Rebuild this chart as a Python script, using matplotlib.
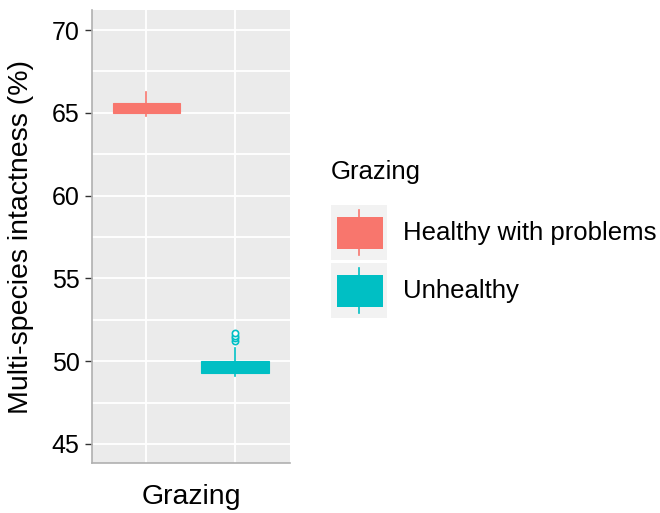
import matplotlib.pyplot as plt
from matplotlib.patches import Rectangle

plt.rcParams['font.family'] = ['Liberation Sans', 'DejaVu Sans']

# data------------------------------------------------------------------------#
groups = ['Healthy with problems', 'Unhealthy']
colors = ['#F8766D', '#00BFC4']
whislo = [64.83, 49.13]
q1 = [64.97, 49.27]
med = [65.30, 49.60]
q3 = [65.57, 50.00]
whishi = [66.24, 50.80]
fliers = [[], [51.20, 51.40, 51.55, 51.70]]

# layout----------------------------------------------------------------------#
pos = [0.73, 1.265]
fs_tick = 18
fs_title = 20.5
fs_leg = 18.5

fig = plt.figure(figsize=(6.6, 5.13), dpi=100)
ax = fig.add_axes([92/660, 1-463/513, 198/660, 453/513])
ax.set_facecolor('#EBEBEB')

stats = []
for i in range(len(groups)):
    stats.append(dict(whislo=whislo[i], q1=q1[i], med=med[i], q3=q3[i],
                      whishi=whishi[i], fliers=fliers[i]))

for i, s in enumerate(stats):
    c = colors[i]
    ax.bxp([s], positions=[pos[i]], widths=0.41, patch_artist=True,
           showcaps=False, manage_ticks=False,
           boxprops=dict(facecolor=c, edgecolor=c, linewidth=0.8),
           medianprops=dict(color=c, linewidth=0.8),
           whiskerprops=dict(color=c, linewidth=1.2),
           flierprops=dict(marker='o', markersize=4.5, markerfacecolor='white',
                           markeredgecolor=c, markeredgewidth=1.2),
           zorder=3)

ax.set_xlim(0.4, 1.6)
ax.set_ylim(43.85, 71.21)
ax.set_yticks([45, 50, 55, 60, 65, 70])
ax.set_yticks([47.5, 52.5, 57.5, 62.5, 67.5], minor=True)
ax.set_xticks([1])
ax.set_xticklabels(['Grazing'], fontsize=fs_title)
ax.tick_params(axis='x', length=0, pad=15)
ax.tick_params(axis='y', which='major', labelsize=fs_tick, length=5, width=1,
               color='#333333', pad=4)
ax.tick_params(axis='y', which='minor', length=0)
ax.grid(True, which='both', axis='y', color='white', linewidth=1.3)
for p in pos:
    ax.axvline(p, color='white', linewidth=1.3, zorder=1)
ax.set_axisbelow(True)
for side in ['top', 'right']:
    ax.spines[side].set_visible(False)
for side in ['left', 'bottom']:
    ax.spines[side].set_color('#B0B0B0')
    ax.spines[side].set_linewidth(1.2)
ax.set_ylabel('Multi-species intactness (%)', fontsize=fs_title)
ax.yaxis.set_label_coords(-0.295, 0.5)

# legend----------------------------------------------------------------------#
lg = fig.add_axes([0, 0, 1, 1])
lg.set_xlim(0, 660)
lg.set_ylim(513, 0)
lg.axis('off')
lg.text(331, 172, 'Grazing', fontsize=fs_leg, va='center', ha='left')
for i, g in enumerate(groups):
    y0 = 205 + i*58
    lg.add_patch(Rectangle((331, y0), 56, 55, facecolor='#F2F2F2', edgecolor='none'))
    lg.plot([359, 359], [y0+5, y0+50], color=colors[i], linewidth=1.2)
    lg.add_patch(Rectangle((337, y0+12), 46, 32, facecolor=colors[i], edgecolor='none'))
    lg.text(403, y0+28, g, fontsize=fs_leg, va='center', ha='left')

fig.savefig('out.png', dpi=100)
